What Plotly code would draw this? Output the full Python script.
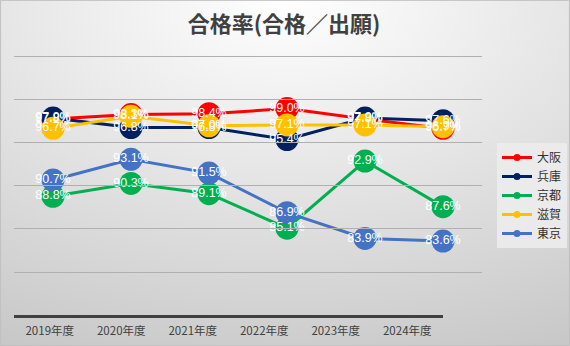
import base64
import plotly.graph_objects as go

# ---- data ----
years = ["2019年度", "2020年度", "2021年度", "2022年度", "2023年度", "2024年度"]
osaka = [97.8, 98.3, 98.4, 99.0, 97.8, 96.7]
hyogo = [97.9, 96.8, 96.8, 95.4, 97.9, 97.6]
kyoto = [88.8, 90.3, 89.1, 85.1, 92.9, 87.6]
shiga = [96.7, 98.1, 97.0, 97.1, 97.1, 96.9]
tokyo = [90.7, 93.1, 91.5, 86.9, 83.9, 83.6]
series_names = ["大阪", "兵庫", "京都", "滋賀", "東京"]
series_values = [osaka, hyogo, kyoto, shiga, tokyo]
y_ticks = [80, 85, 90, 95, 100, 105]

colors = ["#ff0000", "#002060", "#00b050", "#ffc000", "#4472c4"]

W, H = 570, 346
def fx(px):
    return px / W
def fy(py):
    return 1 - py / H

idx = list(range(len(years)))

fig = go.Figure()

# invisible trace so the category label axis is drawn
fig.add_trace(go.Scatter(x=idx, y=[None] * len(idx), xaxis="x2", yaxis="y",
                         mode="markers", showlegend=False, hoverinfo="skip"))

# lines + markers
for name, vals, c in zip(series_names, series_values, colors):
    fig.add_trace(go.Scatter(
        x=idx, y=vals, mode="lines+markers", name=name,
        line=dict(color=c, width=3),
        marker=dict(color=c, size=23, line=dict(width=0)),
        showlegend=False, hoverinfo="skip",
    ))

# data labels (drawn on top of all markers)
for name, vals in zip(series_names, series_values):
    fig.add_trace(go.Scatter(
        x=idx, y=vals, mode="text",
        text=[f"{v:.1f}%" for v in vals],
        textposition="middle center",
        textfont=dict(color="white", size=12.5,
                      family="Liberation Sans Narrow, Arial Narrow, Liberation Sans"),
        showlegend=False, hoverinfo="skip",
    ))

# legend entries
for name, c in zip(series_names, colors):
    fig.add_trace(go.Scatter(
        x=[None], y=[None], mode="lines+markers", name=name,
        line=dict(color=c, width=3), marker=dict(color=c, size=7),
        showlegend=True,
    ))

# background gradient (decoration)
svg = (
    '<svg xmlns="http://www.w3.org/2000/svg" width="570" height="346" preserveAspectRatio="none">'
    '<defs><radialGradient id="g" cx="50%" cy="0%" r="110%" fx="50%" fy="0%">'
    '<stop offset="0%" stop-color="#ffffff"/>'
    '<stop offset="100%" stop-color="#c8c8c8"/>'
    '</radialGradient></defs>'
    '<rect width="570" height="346" fill="url(#g)"/></svg>'
)
src = "data:image/svg+xml;base64," + base64.b64encode(svg.encode()).decode()

fig.update_layout(
    width=W, height=H,
    margin=dict(l=0, r=0, t=0, b=0),
    paper_bgcolor="#dcdcdc",
    plot_bgcolor="rgba(0,0,0,0)",
    images=[dict(source=src, xref="paper", yref="paper", x=0, y=1,
                 sizex=1, sizey=1, sizing="stretch", layer="below")],
    title=dict(text="合格率(合格／出願)", x=fx(284), xanchor="center",
               y=fy(24), yanchor="middle",
               font=dict(family="Noto Sans CJK JP", size=22, color="#404040", weight="bold")),
    xaxis=dict(domain=[fx(14), fx(482)], range=[-0.5, 5.5],
               showgrid=False, showline=False, showticklabels=False,
               zeroline=False, fixedrange=True),
    xaxis2=dict(domain=[fx(14), fx(443)], range=[-0.5, 5.5], anchor="y",
                tickvals=idx, ticktext=years, showgrid=False,
                showline=True, linecolor="#404040", linewidth=2.5,
                ticks="", zeroline=False, automargin=False, fixedrange=True,
                ticklabelstandoff=3,
                tickfont=dict(family="Noto Sans CJK JP", size=11.5, color="#404040")),
    yaxis=dict(domain=[fy(315), fy(54.4)], range=[75, 105.3],
               tickvals=y_ticks, showticklabels=False,
               showgrid=True, gridcolor="#b0b0b0", gridwidth=1,
               zeroline=False, showline=False, fixedrange=True),
    legend=dict(x=fx(497), y=fy(143), xanchor="left", yanchor="top",
                bgcolor="rgba(236,236,236,0.9)", borderwidth=0,
                font=dict(family="Noto Sans CJK JP", size=12, color="#303030"),
                tracegroupgap=0, itemwidth=30),
    shapes=[dict(type="rect", xref="paper", yref="paper", x0=0.001, y0=0.001,
                 x1=0.999, y1=0.999, line=dict(color="#c0c0c0", width=1),
                 layer="above")],
    showlegend=True,
)

fig.write_html("out.html")
